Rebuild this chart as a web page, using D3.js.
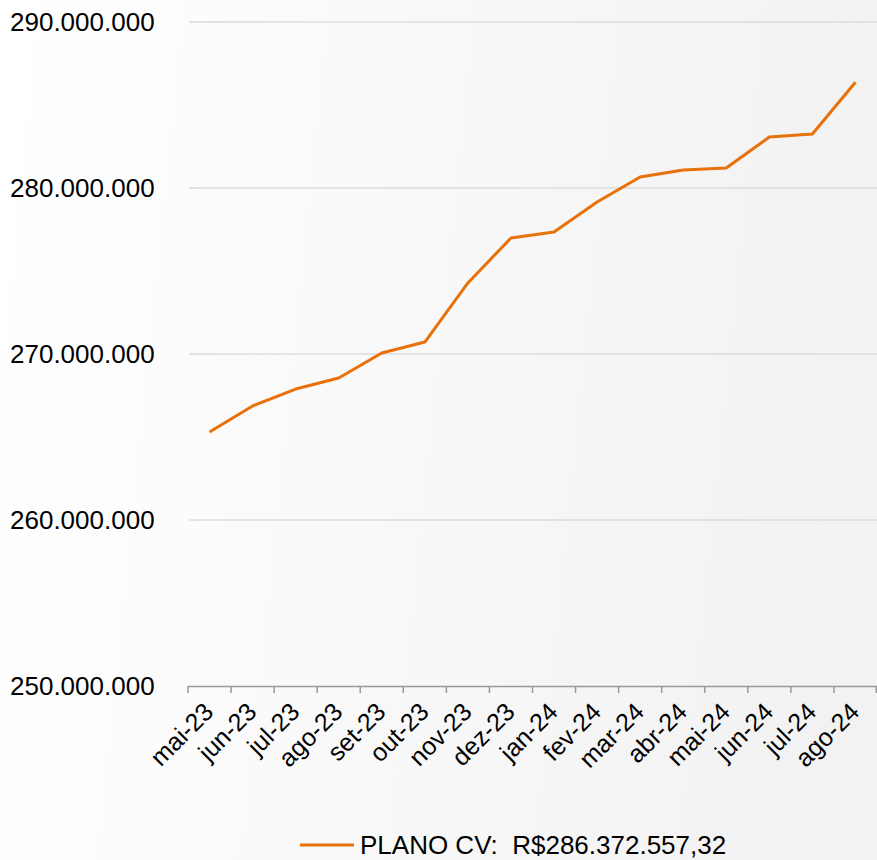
<!DOCTYPE html>
<html><head><meta charset="utf-8">
<script src="https://cdn.jsdelivr.net/npm/d3@7"></script>
<style>html,body{margin:0;padding:0;background:#fff}svg{display:block}</style>
</head><body>
<script>
const categories = ["mai-23","jun-23","jul-23","ago-23","set-23","out-23","nov-23","dez-23","jan-24","fev-24","mar-24","abr-24","mai-24","jun-24","jul-24","ago-24"];
const values = [265300000,266870000,267890000,268550000,270060000,270720000,274280000,276990000,277350000,279160000,280660000,281080000,281200000,283070000,283250000,286372557.32];
const yTicks = [250000000,260000000,270000000,280000000,290000000];
const seriesName = "PLANO CV:";
const legendValue = "R$286.372.557,32";

const W = 877, H = 860;
const svg = d3.select("body").append("svg").attr("width", W).attr("height", H);
const defs = svg.append("defs");
const grad = defs.append("linearGradient").attr("id","bg").attr("x1","0").attr("y1","0").attr("x2","1").attr("y2","0.1");
grad.append("stop").attr("offset","0").attr("stop-color","#ffffff");
grad.append("stop").attr("offset","1").attr("stop-color","#f2f2f3");
svg.append("rect").attr("width",W).attr("height",H).attr("fill","url(#bg)");

const x0 = 188, x1 = 877, yTop = 22, yBot = 686;
const x = d3.scaleBand().domain(categories).range([x0, x1]).padding(0);
const y = d3.scaleLinear().domain([250000000, 290000000]).range([yBot, yTop]);
const fmt = v => d3.format(",")(v).replace(/,/g, ".");
const font = "'Liberation Sans', Arial, sans-serif";

// gridlines
svg.append("g").selectAll("line").data(yTicks.filter(t => t > 250000000)).join("line")
  .attr("x1", x0+1).attr("x2", x1).attr("y1", d => y(d)).attr("y2", d => y(d))
  .attr("stroke", "#dcdcdc").attr("stroke-width", 1.5);

// y labels
svg.append("g").selectAll("text").data(yTicks).join("text")
  .attr("x", 10).attr("y", d => y(d)).attr("dy", "0.35em")
  .attr("font-family", font).attr("font-size", 26).attr("fill", "#000")
  .text(fmt);

// x axis
const xAxis = d3.axisBottom(x).tickSize(0).tickFormat(d => d);
const gx = svg.append("g").attr("transform", `translate(0,${yBot})`).call(xAxis);
gx.select(".domain").attr("stroke", "#999").attr("stroke-width", 1.5);
gx.selectAll(".tick line").remove();
const bounds = categories.map(c => x(c)).concat([x1 - 0.75]);
gx.selectAll(".bt").data(bounds).join("line").attr("class","bt")
  .attr("x1", d => d).attr("x2", d => d).attr("y1", 0).attr("y2", 7)
  .attr("stroke", "#999").attr("stroke-width", 1.5);
gx.selectAll(".tick text")
  .attr("font-family", font).attr("font-size", 25).attr("fill", "#000")
  .attr("text-anchor", "end")
  .attr("transform", `translate(-7,15) rotate(-45)`)
  .attr("x", 0).attr("y", 0).attr("dy", "0.7em");

// line
const line = d3.line().x((d,i) => x(categories[i]) + x.bandwidth()/2).y(d => y(d));
svg.append("path").datum(values).attr("d", line)
  .attr("fill", "none").attr("stroke", "#E8710A").attr("stroke-width", 3).attr("stroke-linejoin","round");

// legend
svg.append("line").attr("x1", 300).attr("x2", 354).attr("y1", 845).attr("y2", 845)
  .attr("stroke", "#E8710A").attr("stroke-width", 3);
svg.append("text").attr("x", 360).attr("y", 845).attr("dy","0.35em")
  .attr("font-family", font).attr("font-size", 26).attr("fill", "#000")
  .attr("xml:space","preserve")
  .text(seriesName + "  " + legendValue);
</script>
</body></html>
